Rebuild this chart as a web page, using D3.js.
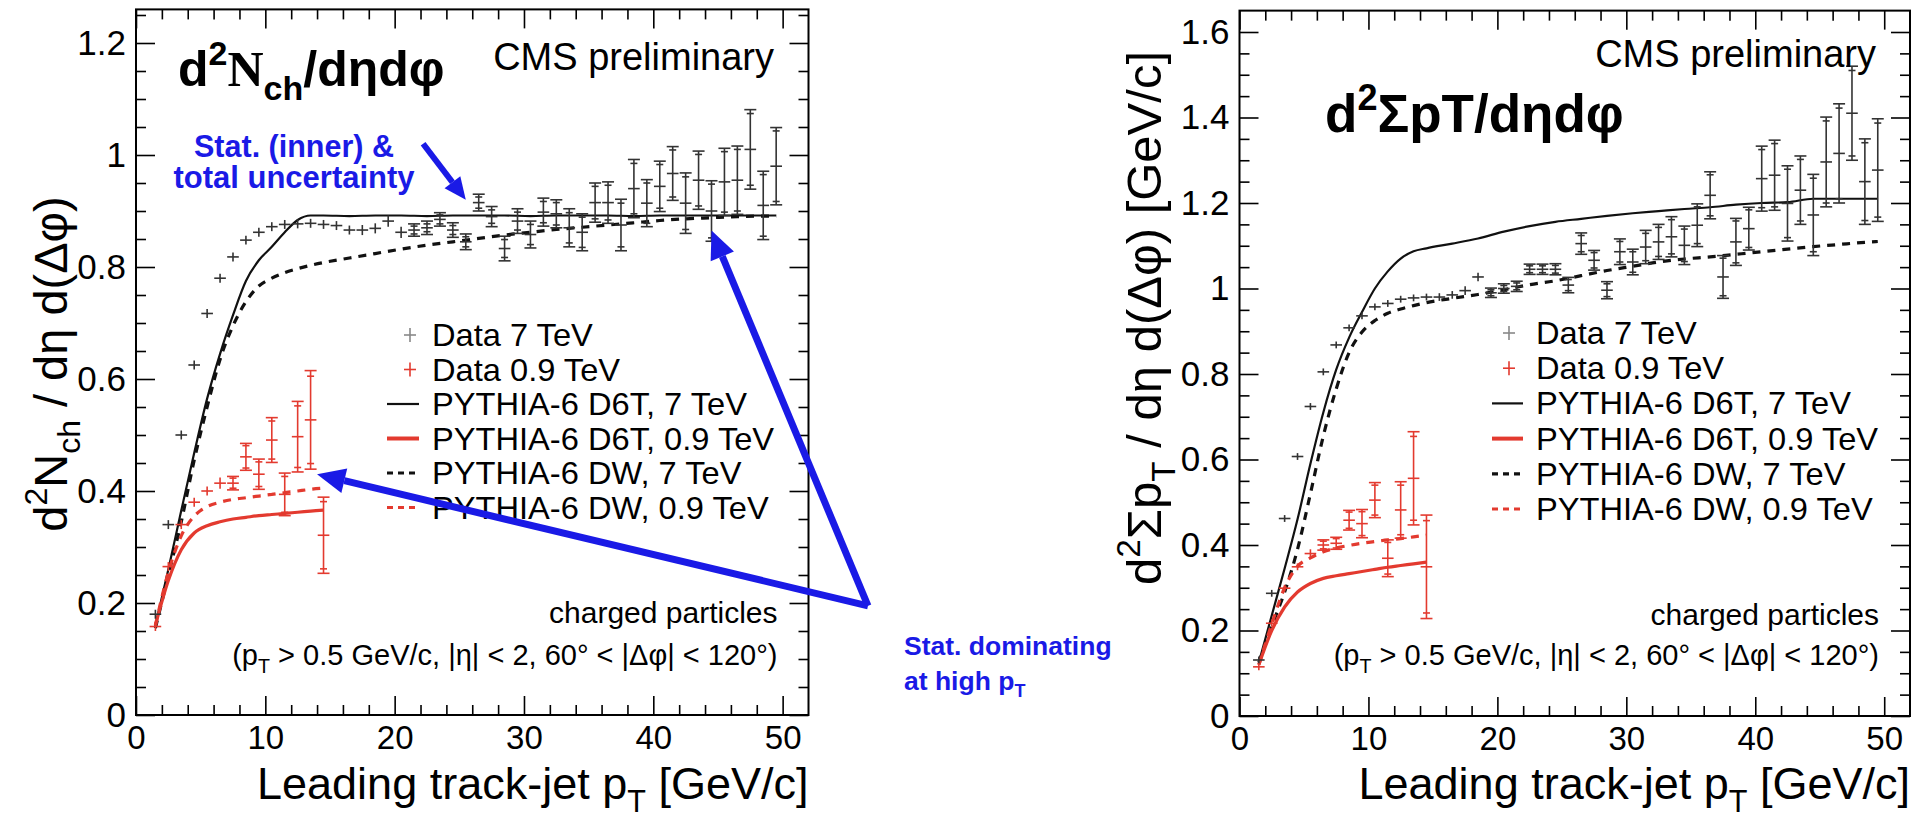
<!DOCTYPE html>
<html><head><meta charset="utf-8">
<script src="https://cdn.jsdelivr.net/npm/d3@7"></script>
<style>
body{margin:0;background:#fff}
svg{display:block}
text{font-family:"Liberation Sans",Arial,Helvetica,sans-serif;fill:#000}
</style></head>
<body><svg id="c" width="1929" height="826"></svg>
<script>
// ---------------- DATA ----------------
const xTicks = [0,10,20,30,40,50];
const yTicksN = [0,0.2,0.4,0.6,0.8,1,1.2];
const yTicksS = [0,0.2,0.4,0.6,0.8,1,1.2,1.4,1.6];

const bin7 = [1.5,2.5,3.5,4.5,5.5,6.5,7.5,8.5,9.5,10.5,11.5,12.5,13.5,14.5,15.5,16.5,17.5,18.5,19.5,20.5,21.5,22.5,23.5,24.5,25.5,26.5,27.5,28.5,29.5,30.5,31.5,32.5,33.5,34.5,35.5,36.5,37.5,38.5,39.5,40.5,41.5,42.5,43.5,44.5,45.5,46.5,47.5,48.5,49.5];
const bin09 = [1.5,2.5,3.5,4.5,5.5,6.5,7.5,8.5,9.5,10.5,11.5,12.5,13.5,14.5];

// d2Nch/deta dphi, data 7 TeV
const nch7 = [0.18,0.34,0.50,0.625,0.717,0.78,0.818,0.848,0.862,0.872,0.876,0.877,0.878,0.876,0.874,0.866,0.866,0.869,0.882,0.862,0.866,0.870,0.885,0.866,0.845,0.915,0.89,0.833,0.882,0.858,0.898,0.895,0.87,0.862,0.915,0.915,0.875,0.94,0.914,0.944,0.967,0.914,0.955,0.9,0.952,0.955,1.01,0.91,0.98];
const nch7Tot = [0.006,0.006,0.006,0.006,0.006,0.006,0.006,0.006,0.006,0.006,0.007,0.007,0.007,0.008,0.008,0.008,0.009,0.009,0.01,0.01,0.011,0.012,0.012,0.013,0.014,0.015,0.018,0.022,0.022,0.024,0.025,0.025,0.034,0.033,0.035,0.037,0.046,0.052,0.042,0.045,0.048,0.054,0.052,0.054,0.06,0.061,0.071,0.061,0.069];
const nch7Stat = [0.002,0.002,0.002,0.002,0.002,0.002,0.002,0.002,0.003,0.003,0.003,0.004,0.004,0.004,0.005,0.005,0.005,0.006,0.006,0.006,0.007,0.007,0.008,0.008,0.009,0.01,0.012,0.016,0.016,0.018,0.019,0.02,0.027,0.027,0.029,0.031,0.039,0.045,0.036,0.039,0.042,0.047,0.046,0.048,0.054,0.055,0.064,0.055,0.063];
// data 0.9 TeV
const nch09 = [0.158,0.265,0.34,0.38,0.40,0.414,0.414,0.461,0.43,0.491,0.394,0.497,0.527,0.321];
const nch09Tot = [0.005,0.006,0.006,0.007,0.008,0.01,0.012,0.024,0.027,0.04,0.038,0.063,0.088,0.068];
const nch09Stat = [0.003,0.004,0.004,0.005,0.006,0.007,0.009,0.02,0.022,0.034,0.032,0.055,0.078,0.06];
// PYTHIA curves (Nch)
const mcXa = [1.5,2.5,3.5,4.5,5.5,6.5,7.5,8.5,9.5,10.5,11.5,12.5,13.5,14.5,16.5,18.5,20.5,22.5,24.5,26.5,28.5,30.5,32.5,34.5,36.5,38.5,40.5,42.5,44.5,46.5,48.5,49.5];
const nchD6T7 = [0.16,0.26,0.365,0.468,0.565,0.645,0.714,0.775,0.812,0.836,0.862,0.884,0.892,0.892,0.891,0.892,0.892,0.891,0.892,0.892,0.892,0.891,0.892,0.892,0.892,0.891,0.892,0.892,0.892,0.892,0.892,0.892];
const nchDW7  = [0.155,0.25,0.345,0.455,0.55,0.635,0.695,0.738,0.766,0.78,0.79,0.797,0.803,0.808,0.816,0.824,0.832,0.839,0.845,0.851,0.857,0.862,0.867,0.871,0.875,0.879,0.883,0.886,0.888,0.89,0.891,0.891];
const nchD6T09 = [0.16,0.24,0.295,0.325,0.338,0.345,0.35,0.353,0.356,0.358,0.36,0.362,0.364,0.366];
const nchDW09  = [0.16,0.255,0.32,0.355,0.372,0.38,0.385,0.388,0.391,0.394,0.397,0.4,0.403,0.405];

// d2SumPt/deta dphi, data 7 TeV
const spt7 = [0.131,0.287,0.462,0.607,0.724,0.805,0.868,0.908,0.936,0.957,0.965,0.975,0.978,0.98,0.98,0.985,0.995,1.027,0.99,1.0,1.005,1.045,1.045,1.045,1.008,1.105,1.066,0.996,1.086,1.062,1.097,1.109,1.121,1.101,1.148,1.218,1.027,1.109,1.14,1.257,1.265,1.199,1.23,1.172,1.296,1.316,1.41,1.25,1.277];
const spt7Tot = [0.006,0.006,0.006,0.006,0.006,0.006,0.006,0.006,0.007,0.007,0.007,0.008,0.008,0.008,0.009,0.009,0.01,0.01,0.011,0.011,0.012,0.012,0.012,0.013,0.018,0.025,0.023,0.02,0.03,0.03,0.039,0.041,0.047,0.045,0.05,0.055,0.05,0.055,0.05,0.076,0.082,0.088,0.08,0.095,0.105,0.116,0.11,0.1,0.12];
const spt7Stat = [0.002,0.002,0.002,0.002,0.002,0.002,0.002,0.002,0.003,0.003,0.003,0.004,0.004,0.004,0.005,0.005,0.006,0.006,0.007,0.007,0.008,0.008,0.008,0.009,0.013,0.019,0.018,0.015,0.024,0.024,0.032,0.034,0.04,0.038,0.043,0.048,0.044,0.049,0.044,0.068,0.074,0.08,0.072,0.086,0.096,0.106,0.1,0.091,0.11];
const spt09 = [0.115,0.217,0.299,0.349,0.38,0.40,0.404,0.458,0.45,0.505,0.369,0.482,0.556,0.349];
const spt09Tot = [0.005,0.006,0.007,0.008,0.01,0.012,0.014,0.023,0.033,0.041,0.043,0.066,0.109,0.121];
const spt09Stat = [0.003,0.004,0.005,0.006,0.007,0.009,0.011,0.019,0.028,0.035,0.037,0.058,0.098,0.108];
const sptD6T7 = [0.125,0.235,0.345,0.46,0.59,0.71,0.81,0.885,0.945,1.0,1.04,1.07,1.087,1.094,1.105,1.117,1.133,1.146,1.156,1.163,1.17,1.176,1.181,1.186,1.19,1.196,1.2,1.202,1.21,1.21,1.21,1.21];
const sptDW7  = [0.125,0.21,0.29,0.39,0.52,0.655,0.765,0.85,0.898,0.925,0.942,0.952,0.96,0.967,0.977,0.986,0.997,1.009,1.018,1.03,1.042,1.052,1.062,1.069,1.074,1.08,1.086,1.092,1.098,1.103,1.108,1.11];
const sptD6T09 = [0.12,0.2,0.255,0.29,0.31,0.322,0.328,0.333,0.338,0.343,0.348,0.352,0.356,0.36];
const sptDW09  = [0.12,0.215,0.3,0.35,0.37,0.384,0.393,0.399,0.404,0.408,0.412,0.415,0.419,0.423];

const legendLabels = ["Data 7 TeV","Data 0.9 TeV","PYTHIA-6 D6T, 7 TeV","PYTHIA-6 D6T, 0.9 TeV","PYTHIA-6 DW, 7 TeV","PYTHIA-6 DW, 0.9 TeV"];

// ---------------- STYLE ----------------
const BLK = "#333", RED = "#e33a2f", BLUE = "#1a1ae6";
const svg = d3.select("#c");

function rich(parent, x, y, segs, o) {
  const fs = o.size;
  const t = parent.append("text").attr("x", x).attr("y", y)
    .attr("font-size", fs).attr("text-anchor", o.anchor || "start");
  if (o.weight) t.attr("font-weight", o.weight);
  if (o.fill) t.style("fill", o.fill);
  let cur = 0;
  segs.forEach(s => {
    const off = s.sup ? -0.42 * fs : s.sub ? 0.28 * fs : 0;
    const ts = t.append("tspan").text(s.t).attr("dy", off - cur);
    cur = off;
    if (s.sup || s.sub) ts.attr("font-size", fs * 0.68);
    if (s.family) ts.attr("font-family", s.family);
    if (s.weight) ts.attr("font-weight", s.weight);
  });
  return t;
}

function panel(P) {
  const g = svg.append("g");
  const x = d3.scaleLinear().domain([0, 52]).range([P.x0, P.x1]);
  const y = d3.scaleLinear().domain([0, P.ymax]).range([P.y0, P.y1]);
  const xMinor = d3.range(2, 52, 2).filter(v => v % 10 !== 0);
  const yMinor = d3.range(0.05, P.ymax, 0.05).filter(v => Math.abs(v / 0.2 - Math.round(v / 0.2)) > 1e-6);
  const noDom = s => s.select(".domain").remove();
  const styleTicks = s => s.selectAll("line").attr("stroke", "#000").attr("stroke-width", 1.6);
  const bx = g.append("g").attr("transform", `translate(0,${P.y0})`)
    .call(d3.axisBottom(x).tickValues(xTicks).tickSizeInner(-19).tickSizeOuter(0).tickPadding(11).tickFormat(d3.format("d")))
    .call(noDom).call(styleTicks);
  bx.selectAll("text").attr("font-size", 33).attr("font-family", "Liberation Sans, Arial, sans-serif").style("fill", "#000");
  g.append("g").attr("transform", `translate(0,${P.y0})`)
    .call(d3.axisBottom(x).tickValues(xMinor).tickSizeInner(-10).tickSizeOuter(0).tickFormat(""))
    .call(noDom).call(styleTicks);
  g.append("g").attr("transform", `translate(0,${P.y1})`)
    .call(d3.axisTop(x).tickValues(xTicks).tickSizeInner(-19).tickSizeOuter(0).tickFormat(""))
    .call(noDom).call(styleTicks);
  g.append("g").attr("transform", `translate(0,${P.y1})`)
    .call(d3.axisTop(x).tickValues(xMinor).tickSizeInner(-10).tickSizeOuter(0).tickFormat(""))
    .call(noDom).call(styleTicks);
  const ly = g.append("g").attr("transform", `translate(${P.x0},0)`)
    .call(d3.axisLeft(y).tickValues(P.yTicks).tickSizeInner(-19).tickSizeOuter(0).tickPadding(10).tickFormat(d3.format("~g")))
    .call(noDom).call(styleTicks);
  ly.selectAll("text").attr("font-size", 35).attr("font-family", "Liberation Sans, Arial, sans-serif").style("fill", "#000");
  g.append("g").attr("transform", `translate(${P.x0},0)`)
    .call(d3.axisLeft(y).tickValues(yMinor).tickSizeInner(-10).tickSizeOuter(0).tickFormat(""))
    .call(noDom).call(styleTicks);
  g.append("g").attr("transform", `translate(${P.x1},0)`)
    .call(d3.axisRight(y).tickValues(P.yTicks).tickSizeInner(-19).tickSizeOuter(0).tickFormat(""))
    .call(noDom).call(styleTicks);
  g.append("g").attr("transform", `translate(${P.x1},0)`)
    .call(d3.axisRight(y).tickValues(yMinor).tickSizeInner(-10).tickSizeOuter(0).tickFormat(""))
    .call(noDom).call(styleTicks);
  g.append("rect").attr("x", P.x0).attr("y", P.y1).attr("width", P.x1 - P.x0).attr("height", P.y0 - P.y1)
    .attr("fill", "none").attr("stroke", "#000").attr("stroke-width", 2);

  const line = d3.line().x(d => x(d[0])).y(d => y(d[1])).curve(d3.curveMonotoneX);
  const curve = (xs, ys, col, w, dash) => g.append("path")
    .attr("d", line(xs.map((v, i) => [v, ys[i]]))).attr("fill", "none")
    .attr("stroke", col).attr("stroke-width", w).attr("stroke-dasharray", dash || null);
  curve(mcXa, P.d6t7, "#111", 2.2);
  curve(mcXa, P.dw7, "#111", 3.2, "8,7");
  curve(bin09, P.d6t09, RED, 3.2);
  curve(bin09, P.dw09, RED, 3.2, "8,7");

  const HW = 0.45;
  const drawData = (xs, vs, tot, st, col) => {
    const gg = g.append("g").attr("stroke", col).attr("stroke-width", 1.6);
    xs.forEach((xv, i) => {
      const cx = x(xv);
      gg.append("line").attr("x1", x(xv - HW)).attr("x2", x(xv + HW)).attr("y1", y(vs[i])).attr("y2", y(vs[i]));
      const e = Math.max(tot[i], 0.008);
      gg.append("line").attr("x1", cx).attr("x2", cx).attr("y1", y(vs[i] - e)).attr("y2", y(vs[i] + e));
      if (tot[i] > 0.01) {
        [vs[i] - tot[i], vs[i] + tot[i]].forEach(v => gg.append("line")
          .attr("x1", cx - 6).attr("x2", cx + 6).attr("y1", y(v)).attr("y2", y(v)));
        [vs[i] - st[i], vs[i] + st[i]].forEach(v => gg.append("line")
          .attr("x1", cx - 3.5).attr("x2", cx + 3.5).attr("y1", y(v)).attr("y2", y(v)));
      }
    });
  };
  drawData(bin7, P.d7, P.d7t, P.d7s, BLK);
  drawData(bin09, P.d09, P.d09t, P.d09s, RED);

  legendLabels.forEach((lab, i) => {
    const yy = P.legY + i * P.legDY;
    if (i < 2) {
      const c = i === 0 ? "#888" : RED;
      g.append("line").attr("x1", P.legMark - 6).attr("x2", P.legMark + 6).attr("y1", yy).attr("y2", yy).attr("stroke", c).attr("stroke-width", 1.6);
      g.append("line").attr("x1", P.legMark).attr("x2", P.legMark).attr("y1", yy - 7).attr("y2", yy + 7).attr("stroke", c).attr("stroke-width", 1.6);
    } else {
      const col = (i === 2 || i === 4) ? "#111" : RED;
      const w = (i === 3) ? 4 : (i === 2 ? 2.2 : 3.2);
      g.append("line").attr("x1", P.legL0).attr("x2", P.legL1).attr("y1", yy).attr("y2", yy)
        .attr("stroke", col).attr("stroke-width", w).attr("stroke-dasharray", i >= 4 ? "6,5" : null);
    }
    g.append("g").attr("transform", `translate(${P.legText},${yy + 11}) scale(1.07,1)`)
      .append("text").attr("font-size", 30.5).text(lab);
  });

  rich(g, P.x1, P.xtY, [{t: "Leading track-jet p"}, {t: "T", sub: true}, {t: " [GeV/c]"}], {size: 45, anchor: "end"});
  g.append("text").attr("x", P.cmsX).attr("y", P.cmsY).attr("font-size", 38).attr("text-anchor", "end").text("CMS preliminary");
  g.append("text").attr("x", P.x1 - 31).attr("y", P.chY).attr("font-size", 30).attr("text-anchor", "end").text("charged particles");
  rich(g, P.x1 - 31, P.condY, [{t: "(p"}, {t: "T", sub: true}, {t: " > 0.5 GeV/c, |η| < 2, 60° < |Δφ| < 120°)"}], {size: 29, anchor: "end"});
  const yt = g.append("g").attr("transform", `translate(${P.ytX},${P.ytY}) rotate(-90)`);
  rich(yt, 0, 0, P.ytSegs, {size: P.ytSize, anchor: "middle"});
  rich(g, P.titX, P.titY, P.titSegs, {size: P.titSize, weight: "bold"});
  return {x, y, g};
}

const L = panel({
  x0: 136, x1: 808.5, y0: 715, y1: 715 - 1.26 * 560, ymax: 1.26, yTicks: yTicksN,
  d7: nch7, d7t: nch7Tot, d7s: nch7Stat, d09: nch09, d09t: nch09Tot, d09s: nch09Stat,
  d6t7: nchD6T7, dw7: nchDW7, d6t09: nchD6T09, dw09: nchDW09,
  legY: 335, legDY: 34.5, legMark: 410, legText: 432, legL0: 387, legL1: 419,
  xtY: 799, cmsX: 774, cmsY: 70, chY: 623, condY: 665,
  ytX: 67, ytY: 364, ytSize: 47,
  ytSegs: [{t: "d"}, {t: "2", sup: true}, {t: "N"}, {t: "ch", sub: true}, {t: " / dη d(Δφ)"}],
  titX: 178, titY: 86, titSize: 50,
  titSegs: [{t: "d"}, {t: "2", sup: true}, {t: "N", family: "Liberation Serif, serif"}, {t: "ch", sub: true}, {t: "/dηdφ"}]
});

const R = panel({
  x0: 1239.5, x1: 1910, y0: 716, y1: 716 - 1.65 * 427.5, ymax: 1.65, yTicks: yTicksS,
  d7: spt7, d7t: spt7Tot, d7s: spt7Stat, d09: spt09, d09t: spt09Tot, d09s: spt09Stat,
  d6t7: sptD6T7, dw7: sptDW7, d6t09: sptD6T09, dw09: sptDW09,
  legY: 333, legDY: 35.2, legMark: 1509, legText: 1536, legL0: 1492, legL1: 1523,
  xtY: 799, cmsX: 1876, cmsY: 67, chY: 625, condY: 665,
  ytX: 1161, ytY: 318, ytSize: 49,
  ytSegs: [{t: "d"}, {t: "2", sup: true}, {t: "Σp"}, {t: "T", sub: true}, {t: " / dη d(Δφ) [GeV/c]"}],
  titX: 1325, titY: 132, titSize: 53,
  titSegs: [{t: "d"}, {t: "2", sup: true}, {t: "ΣpT/dηdφ"}]
});

// ---------------- ANNOTATIONS ----------------
const ann = svg.append("g");
function arrow(x1, y1, x2, y2, w, head) {
  const a = Math.atan2(y2 - y1, x2 - x1);
  const bx = x2 - head * Math.cos(a), by = y2 - head * Math.sin(a);
  ann.append("line").attr("x1", x1).attr("y1", y1).attr("x2", bx).attr("y2", by)
    .attr("stroke", BLUE).attr("stroke-width", w);
  const px = Math.sin(a) * head * 0.45, py = -Math.cos(a) * head * 0.45;
  ann.append("path").attr("d", `M${x2},${y2}L${bx + px},${by + py}L${bx - px},${by - py}Z`).attr("fill", BLUE);
}
rich(ann, 294, 157, [{t: "Stat. (inner) &"}], {size: 30.5, weight: "bold", anchor: "middle", fill: BLUE});
rich(ann, 294, 188, [{t: "total uncertainty"}], {size: 31, weight: "bold", anchor: "middle", fill: BLUE});
arrow(L.x(22.2), L.y(1.02), L.x(25.5), L.y(0.92), 6, 22);
const ox = L.x(56.6), oy = L.y(0.195);
arrow(ox, oy, L.x(44.5), L.y(0.865), 7, 28);
arrow(ox, oy, L.x(14.0), L.y(0.43), 7, 28);
rich(ann, 904, 655, [{t: "Stat. dominating"}], {size: 26.5, weight: "bold", fill: BLUE});
rich(ann, 904, 690, [{t: "at high p"}, {t: "T", sub: true}], {size: 26.5, weight: "bold", fill: BLUE});
</script>
</body></html>
